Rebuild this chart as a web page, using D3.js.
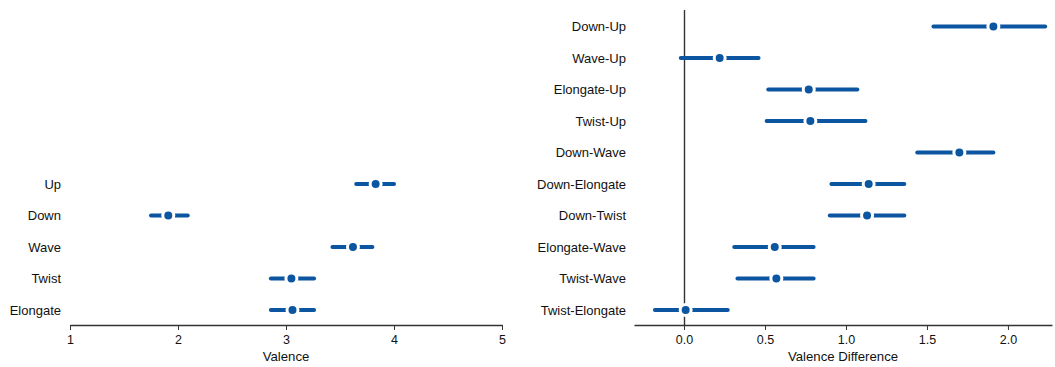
<!DOCTYPE html>
<html>
<head>
<meta charset="utf-8">
<script src="https://cdn.jsdelivr.net/npm/d3@7"></script>
<style>
  body { margin: 0; background: #fff; }
  svg { font-family: "Liberation Sans", Arial, sans-serif; }
</style>
</head>
<body>
<svg id="chart" width="1055" height="367"></svg>
<script>
// left panel: per-gesture valence
const gestures = ["Up", "Down", "Wave", "Twist", "Elongate"];
const valMean = [3.83, 1.91, 3.62, 3.05, 3.06];
const valLow = [3.65, 1.75, 3.43, 2.86, 2.86];
const valHigh = [4.00, 2.09, 3.80, 3.26, 3.26];
const valTicks = [1, 2, 3, 4, 5];

// right panel: pairwise differences
const pairs = ["Down-Up", "Wave-Up", "Elongate-Up", "Twist-Up", "Down-Wave",
  "Down-Elongate", "Down-Twist", "Elongate-Wave", "Twist-Wave", "Twist-Elongate"];
const diffMean = [1.91, 0.22, 0.77, 0.78, 1.70, 1.14, 1.13, 0.56, 0.57, 0.01];
const diffLow = [1.54, -0.02, 0.52, 0.51, 1.44, 0.91, 0.90, 0.31, 0.33, -0.18];
const diffHigh = [2.23, 0.46, 1.07, 1.12, 1.91, 1.36, 1.36, 0.80, 0.80, 0.27];
const diffTicks = [0, 0.5, 1.0, 1.5, 2.0];

const blue = "#0b55a1";
const axisColor = "#333";
const svg = d3.select("#chart");
const axisY = 325;
const step = 31.5;

function panel(opts) {
  const { names, mean, low, high, x, ticks, fmt, labelX, title } = opts;
  const n = names.length;
  const y = d3.scalePoint()
    .domain(names)
    .range([310 - (n - 1) * step, 310]);

  const g = svg.append("g");

  if (opts.zeroLine) {
    g.append("line")
      .attr("x1", Math.round(x(0)) + 0.5).attr("x2", Math.round(x(0)) + 0.5)
      .attr("y1", 10).attr("y2", axisY)
      .attr("stroke", axisColor).attr("stroke-width", 1.4);
  }

  // x axis
  const ax = g.append("g")
    .attr("transform", `translate(0,${axisY})`)
    .call(d3.axisBottom(x).tickValues(ticks).tickFormat(fmt).tickSize(5).tickSizeOuter(0));
  ax.select(".domain").attr("stroke", axisColor).attr("stroke-width", 1.3);
  ax.selectAll(".tick line").attr("stroke", axisColor);
  ax.selectAll(".tick text").attr("fill", "#111").attr("font-size", 12.5).attr("dy", "0.85em");

  g.append("text")
    .attr("x", (x.range()[0] + x.range()[1]) / 2)
    .attr("y", 361)
    .attr("text-anchor", "middle")
    .attr("font-size", 13.2)
    .attr("fill", "#111")
    .text(title);

  // row labels
  g.selectAll(".lab").data(names).join("text")
    .attr("x", labelX)
    .attr("y", d => y(d))
    .attr("dy", "0.35em")
    .attr("text-anchor", "end")
    .attr("font-size", 13)
    .attr("fill", "#111")
    .text(d => d);

  const rows = names.map((d, i) => ({ name: d, m: mean[i], lo: low[i], hi: high[i] }));

  g.selectAll(".ci").data(rows).join("line")
    .attr("x1", d => x(d.lo)).attr("x2", d => x(d.hi))
    .attr("y1", d => y(d.name)).attr("y2", d => y(d.name))
    .attr("stroke", blue).attr("stroke-width", 4)
    .attr("stroke-linecap", "round");

  g.selectAll(".pt").data(rows).join("circle")
    .attr("cx", d => x(d.m)).attr("cy", d => y(d.name))
    .attr("r", 5.5)
    .attr("fill", blue)
    .attr("stroke", "#fff").attr("stroke-width", 3);
}

panel({
  names: gestures, mean: valMean, low: valLow, high: valHigh,
  x: d3.scaleLinear().domain([1, 5]).range([70, 502]),
  ticks: valTicks, fmt: d3.format("d"), labelX: 61, title: "Valence"
});

panel({
  names: pairs, mean: diffMean, low: diffLow, high: diffHigh,
  x: d3.scaleLinear().domain([-0.309, 2.272]).range([634, 1052]),
  ticks: diffTicks, fmt: d3.format(".1f"), labelX: 626, title: "Valence Difference",
  zeroLine: true
});
</script>
</body>
</html>
